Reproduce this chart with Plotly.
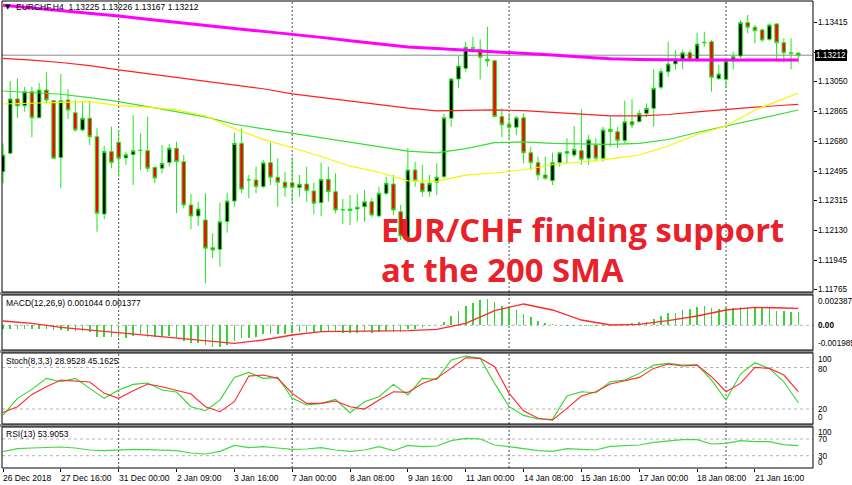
import plotly.graph_objects as go

# ======================= DATA =======================
bars = list(range(111))  # H4 bars, 26 Dec 2018 08:00 ... 22 Jan 2019 16:00

opens = [1.12493, 1.12607, 1.12942, 1.12900, 1.12987, 1.12826, 1.12997, 1.12931, 1.12580, 1.12936,
         1.12857, 1.12751, 1.12823, 1.12709, 1.12232, 1.12617, 1.12675, 1.12578, 1.12598, 1.12623,
         1.12623, 1.12520, 1.12514, 1.12549, 1.12638, 1.12555, 1.12288, 1.12220, 1.12195, 1.12024,
         1.12014, 1.12185, 1.12312, 1.12668, 1.12442, 1.12442, 1.12401, 1.12549, 1.12459, 1.12428,
         1.12425, 1.12395, 1.12417, 1.12374, 1.12302, 1.12446, 1.12370, 1.12257, 1.12253, 1.12263,
         1.12277, 1.12308, 1.12220, 1.12360, 1.12417, 1.12246, 1.12072, 1.12504, 1.12422, 1.12370,
         1.12428, 1.12462, 1.12823, 1.13065, 1.13131, 1.13255, 1.13248, 1.13187, 1.13178, 1.12833,
         1.12786, 1.12767, 1.12826, 1.12610, 1.12549, 1.12473, 1.12438, 1.12549, 1.12607, 1.12596,
         1.12623, 1.12576, 1.12658, 1.12576, 1.12755, 1.12740, 1.12685, 1.12802, 1.12802, 1.12853,
         1.12884, 1.13014, 1.13110, 1.13158, 1.13187, 1.13227, 1.13182, 1.13292, 1.13295, 1.13067,
         1.13063, 1.13176, 1.13207, 1.13413, 1.13384, 1.13368, 1.13310, 1.13405, 1.13289, 1.13227,
         1.13225]
highs = [1.12668, 1.13053, 1.13069, 1.13016, 1.13018, 1.13039, 1.13107, 1.12936, 1.13096, 1.13002,
         1.12936, 1.12925, 1.12925, 1.12761, 1.12652, 1.12771, 1.12751, 1.12617, 1.12843, 1.12730,
         1.12833, 1.12524, 1.12658, 1.12664, 1.12678, 1.12596, 1.12356, 1.12308, 1.12360, 1.12113,
         1.12302, 1.12364, 1.12734, 1.12761, 1.12473, 1.12524, 1.12565, 1.12672, 1.12576, 1.12493,
         1.12582, 1.12473, 1.12524, 1.12425, 1.12549, 1.12524, 1.12483, 1.12325, 1.12349, 1.12356,
         1.12380, 1.12329, 1.12401, 1.12462, 1.12473, 1.12288, 1.12639, 1.12555, 1.12535, 1.12473,
         1.12545, 1.12849, 1.13069, 1.13207, 1.13295, 1.13326, 1.13310, 1.13388, 1.13182, 1.12884,
         1.12853, 1.12837, 1.12853, 1.12647, 1.12586, 1.12586, 1.12610, 1.12617, 1.12699, 1.12775,
         1.12878, 1.12720, 1.12699, 1.12771, 1.12833, 1.12771, 1.12931, 1.12940, 1.12874, 1.12915,
         1.13125, 1.13131, 1.13295, 1.13244, 1.13244, 1.13244, 1.13351, 1.13357, 1.13306, 1.13152,
         1.13182, 1.13234, 1.13429, 1.13460, 1.13398, 1.13378, 1.13409, 1.13409, 1.13316, 1.13316,
         1.13226]
lows = [1.12422, 1.12602, 1.12825, 1.12863, 1.12706, 1.12823, 1.12915, 1.12570, 1.12391, 1.12818,
        1.12740, 1.12740, 1.12658, 1.12123, 1.12200, 1.12514, 1.12462, 1.12535, 1.12411, 1.12504,
        1.12493, 1.12422, 1.12483, 1.12524, 1.12237, 1.12267, 1.12138, 1.12158, 1.11805, 1.11959,
        1.11907, 1.12117, 1.12277, 1.12360, 1.12329, 1.12360, 1.12391, 1.12411, 1.12277, 1.12339,
        1.12308, 1.12339, 1.12308, 1.12230, 1.12220, 1.12308, 1.12237, 1.12171, 1.12164, 1.12185,
        1.12185, 1.12212, 1.12212, 1.12349, 1.12226, 1.12072, 1.12053, 1.12401, 1.12339, 1.12339,
        1.12349, 1.12453, 1.12771, 1.13008, 1.13110, 1.13226, 1.13063, 1.13141, 1.12829, 1.12706,
        1.12699, 1.12720, 1.12545, 1.12504, 1.12442, 1.12442, 1.12411, 1.12524, 1.12545, 1.12582,
        1.12535, 1.12535, 1.12555, 1.12555, 1.12647, 1.12638, 1.12668, 1.12761, 1.12796, 1.12829,
        1.12771, 1.13002, 1.13079, 1.13121, 1.13125, 1.13172, 1.13172, 1.13264, 1.12987, 1.13059,
        1.13008, 1.13125, 1.13193, 1.13347, 1.13285, 1.13295, 1.13301, 1.13172, 1.13166, 1.13125,
        1.13167]
closes = [1.12596, 1.12942, 1.12899, 1.12987, 1.12826, 1.12997, 1.12936, 1.12576, 1.12931, 1.12874,
          1.12751, 1.12823, 1.12709, 1.12237, 1.12617, 1.12549, 1.12576, 1.12598, 1.12623, 1.12625,
          1.12514, 1.12454, 1.12545, 1.12638, 1.12555, 1.12288, 1.12220, 1.12263, 1.12021, 1.12010,
          1.12185, 1.12312, 1.12668, 1.12386, 1.12444, 1.12401, 1.12549, 1.12459, 1.12428, 1.12395,
          1.12397, 1.12416, 1.12376, 1.12298, 1.12446, 1.12370, 1.12257, 1.12259, 1.12263, 1.12274,
          1.12308, 1.12226, 1.12360, 1.12422, 1.12257, 1.12097, 1.12504, 1.12438, 1.12370, 1.12422,
          1.12459, 1.12826, 1.13065, 1.13145, 1.13261, 1.13258, 1.13199, 1.13176, 1.12833, 1.12783,
          1.12767, 1.12826, 1.12610, 1.12549, 1.12473, 1.12453, 1.12549, 1.12610, 1.12617, 1.12631,
          1.12570, 1.12689, 1.12576, 1.12751, 1.12740, 1.12685, 1.12802, 1.12781, 1.12853, 1.12884,
          1.13008, 1.13110, 1.13158, 1.13187, 1.13227, 1.13182, 1.13281, 1.13289, 1.13076, 1.13096,
          1.13176, 1.13203, 1.13413, 1.13384, 1.13363, 1.13306, 1.13398, 1.13289, 1.13227, 1.13224,
          1.13212]

# moving averages, read every 4th bar
ma_index = list(range(0, 109, 4)) + [110]
sma200 = [1.13520, 1.13504, 1.13489, 1.13472, 1.13454, 1.13434, 1.13414, 1.13395, 1.13377, 1.13359,
          1.13342, 1.13322, 1.13301, 1.13281, 1.13263, 1.13253, 1.13244, 1.13235, 1.13224, 1.13213,
          1.13201, 1.13190, 1.13185, 1.13182, 1.13182, 1.13182, 1.13182, 1.13182, 1.13182]
sma_red = [1.13192, 1.13182, 1.13167, 1.13148, 1.13121, 1.13097, 1.13074, 1.13052, 1.13028, 1.13005,
           1.12973, 1.12951, 1.12929, 1.12906, 1.12885, 1.12868, 1.12871, 1.12874, 1.12870, 1.12860,
           1.12846, 1.12837, 1.12837, 1.12846, 1.12862, 1.12878, 1.12891, 1.12903, 1.12909]
sma_green = [1.12991, 1.12981, 1.12971, 1.12950, 1.12925, 1.12895, 1.12863, 1.12831, 1.12786, 1.12758,
             1.12730, 1.12701, 1.12673, 1.12646, 1.12620, 1.12609, 1.12636, 1.12672, 1.12677, 1.12668,
             1.12664, 1.12662, 1.12668, 1.12692, 1.12735, 1.12775, 1.12812, 1.12852, 1.12874]
sma_yellow = [1.12911, 1.12915, 1.12920, 1.12925, 1.12901, 1.12891, 1.12875, 1.12837, 1.12759, 1.12693,
              1.12641, 1.12587, 1.12527, 1.12490, 1.12437, 1.12434, 1.12472, 1.12485, 1.12505, 1.12536,
              1.12553, 1.12572, 1.12596, 1.12652, 1.12723, 1.12775, 1.12874, 1.12945, 1.12977]

# MACD(12,26,9): histogram per bar, signal every 4th bar
macd_hist = [-0.00033, -0.00030, -0.00027, -0.00030, -0.00033, -0.00033, -0.00033, -0.00038, -0.00038, -0.00044,
             -0.00044, -0.00049, -0.00054, -0.00092, -0.00097, -0.00097, -0.00092, -0.00100, -0.00087, -0.00081,
             -0.00092, -0.00092, -0.00092, -0.00087, -0.00105, -0.00124, -0.00140, -0.00146, -0.00159, -0.00178,
             -0.00178, -0.00159, -0.00124, -0.00105, -0.00105, -0.00092, -0.00070, -0.00073, -0.00073, -0.00073,
             -0.00065, -0.00052, -0.00052, -0.00057, -0.00052, -0.00052, -0.00057, -0.00059, -0.00059, -0.00059,
             -0.00057, -0.00059, -0.00054, -0.00046, -0.00052, -0.00057, -0.00033, -0.00030, -0.00017, -0.00003,
             0.00003, 0.00024, 0.00075, 0.00118, 0.00159, 0.00183, 0.00205, 0.00210, 0.00191, 0.00156,
             0.00137, 0.00124, 0.00091, 0.00070, 0.00037, 0.00016, 0.00008, 0.00002, -0.00003, -0.00003,
             -0.00006, -0.00008, -0.00008, -0.00006, -0.00003, 0.00002, 0.00008, 0.00016, 0.00024, 0.00030,
             0.00048, 0.00075, 0.00097, 0.00102, 0.00124, 0.00129, 0.00145, 0.00156, 0.00137, 0.00129,
             0.00137, 0.00137, 0.00151, 0.00151, 0.00145, 0.00145, 0.00137, 0.00118, 0.00118, 0.00110,
             0.001044]
macd_signal = [0.000348, 0.000159, -0.000165, -0.000381, -0.00065, -0.000866, -0.001055, -0.001244, -0.00146,
               -0.00119, -0.000785, -0.000515, -0.000488, -0.000488, -0.000435, -0.000326, 0.000159, 0.001185,
               0.001725, 0.001239, 0.000429, 0.000024, 0.000078, 0.000375, 0.000753, 0.001239, 0.001455,
               0.001401, 0.001377]

# Stochastic(8,3,3) and RSI(13), read every 2nd bar
osc_index = list(range(0, 111, 2))
stoch_main = [11.3, 35.4, 48.4, 64.3, 59.4, 64.3, 49.8, 35.4, 47.4, 55.6, 57.5, 47.4, 44.5, 23.3, 17.5, 32.9,
              65.7, 72.9, 64.3, 65.7, 35.4, 25.7, 28.1, 33.9, 14.6, 30.5, 37.8, 55.6, 40.2, 64.3, 62.8, 90.8,
              96.5, 93.2, 57.0, 23.3, 10.8, 5.5, 5.0, 38.7, 45.0, 43.5, 59.4, 61.8, 71.5, 83.5, 85.9, 83.5,
              84.0, 61.8, 32.9, 70.5, 86.9, 78.7, 59.4, 28.95]
stoch_signal = [15.1, 23.3, 41.1, 52.2, 61.8, 60.4, 59.0, 42.6, 35.4, 46.4, 56.1, 52.2, 46.4, 41.6, 23.3, 16.1,
                30.5, 67.6, 69.1, 64.3, 42.6, 28.1, 28.1, 31.5, 23.3, 19.9, 32.9, 45.0, 44.0, 57.0, 64.3, 78.7,
                94.1, 93.2, 81.1, 42.6, 17.5, 6.5, 4.0, 20.9, 38.7, 45.0, 56.1, 60.9, 65.7, 78.7, 85.0, 82.1,
                83.5, 66.7, 45.0, 57.0, 80.2, 78.7, 69.1, 45.16]
rsi = [39.6, 46.8, 48.4, 50.0, 50.8, 48.4, 43.6, 42.0, 43.6, 45.2, 44.4, 43.6, 42.0, 36.5, 34.1, 40.4,
       54.8, 49.2, 51.6, 48.4, 45.2, 46.0, 49.2, 43.6, 40.4, 43.6, 51.6, 42.0, 54.8, 51.6, 53.2, 66.0,
       71.6, 70.0, 55.6, 51.6, 46.8, 42.0, 40.4, 46.8, 45.2, 43.6, 52.4, 54.8, 55.6, 62.0, 66.0, 68.4,
       68.4, 58.0, 59.6, 66.0, 63.6, 63.6, 56.4, 53.9]

time_label_index = [0, 8, 16, 24, 32, 40, 48, 56, 64, 72, 80, 88, 96, 104]
time_labels = ["26 Dec 2018", "27 Dec 16:00", "31 Dec 00:00", "2 Jan 09:00", "3 Jan 16:00",
               "7 Jan 00:00", "8 Jan 08:00", "9 Jan 16:00", "11 Jan 00:00", "14 Jan 08:00",
               "15 Jan 16:00", "17 Jan 00:00", "18 Jan 08:00", "21 Jan 16:00"]
week_start_index = [16, 40, 70, 100]
price_ticks = [1.13415, 1.13230, 1.13050, 1.12865, 1.12680, 1.12495, 1.12315, 1.12130, 1.11945, 1.11765]
price_tick_text = ["1.13415", "1.13230", "1.13050", "1.12865", "1.12680", "1.12495", "1.12315",
                   "1.12130", "1.11945", "1.11765"]
last_price = 1.13212
header_text = "EURCHF,H4  1.13225 1.13226 1.13167 1.13212"
macd_title = "MACD(12,26,9) 0.001044 0.001377"
stoch_title = "Stoch(8,3,3) 28.9528 45.1625"
rsi_title = "RSI(13) 53.9053"
macd_scale_labels = ["0.002387", "<b>0.00</b>", "-0.001985"]
stoch_scale_labels = ["100", "80", "20", "0"]
rsi_scale_labels = ["100", "70", "30", "0"]
stoch_levels = [80, 20]
rsi_levels = [70, 30]
headline = ["EUR/CHF finding support", "at the 200 SMA"]

# ======================= LAYOUT GEOMETRY =======================
W, H = 852, 485
X_LEFT, X_RIGHT = 2, 813
BAR0_PX, BAR_STEP = 3.0, 7.23
P_MAIN = (1, 292)
P_MACD = (295, 350)
P_STOCH = (353, 424)
P_RSI = (427, 468)
FONT = "Liberation Sans"
SMALL = 8.5
AX = 8.2


def fx(px):
    return px / W


def fy(py):
    return 1 - py / H


def bar_at(px):
    return (px - BAR0_PX) / BAR_STEP


def price_at(py):
    return 1.13415 - (py - 22.3) / 16206.0


def macd_at(py):
    return (325.3 - py) / 12351.0


def stoch_at(py):
    return 80 - (py - 367.5) / 0.6917


def rsi_at(py):
    return 70 - (py - 439.0) / 0.4175


fig = go.Figure()

# moving averages (drawn under candles)
fig.add_trace(go.Scatter(x=ma_index, y=sma_red, mode="lines", line=dict(color="#ff2020", width=1.2),
                         xaxis="x", yaxis="y", hoverinfo="skip"))
fig.add_trace(go.Scatter(x=ma_index, y=sma_green, mode="lines", line=dict(color="#33e033", width=1.2),
                         xaxis="x", yaxis="y", hoverinfo="skip"))
fig.add_trace(go.Scatter(x=ma_index, y=sma_yellow, mode="lines", line=dict(color="#f5f500", width=1.2),
                         xaxis="x", yaxis="y", hoverinfo="skip"))
fig.add_trace(go.Scatter(x=ma_index, y=sma200, mode="lines", line=dict(color="#ff00ff", width=3),
                         xaxis="x", yaxis="y", hoverinfo="skip"))

fig.add_trace(go.Candlestick(
    x=bars, open=opens, high=highs, low=lows, close=closes,
    increasing=dict(line=dict(color="#1ee81e", width=1), fillcolor="#000000"),
    decreasing=dict(line=dict(color="#1ee81e", width=1), fillcolor="#ff0000"),
    whiskerwidth=0, xaxis="x", yaxis="y", hoverinfo="skip"))

# MACD
fig.add_trace(go.Bar(x=bars, y=macd_hist, width=0.22, marker=dict(color="#3ad23a", line=dict(width=0)),
                     xaxis="x", yaxis="y2", hoverinfo="skip"))
fig.add_trace(go.Scatter(x=ma_index, y=macd_signal, mode="lines", line=dict(color="#ff2a2a", width=1.3),
                         xaxis="x", yaxis="y2", hoverinfo="skip"))
# Stochastic
fig.add_trace(go.Scatter(x=osc_index, y=stoch_main, mode="lines", line=dict(color="#2ed82e", width=1.1),
                         xaxis="x", yaxis="y3", hoverinfo="skip"))
fig.add_trace(go.Scatter(x=osc_index, y=stoch_signal, mode="lines", line=dict(color="#ff2a2a", width=1.1),
                         xaxis="x", yaxis="y3", hoverinfo="skip"))
# RSI
fig.add_trace(go.Scatter(x=osc_index, y=rsi, mode="lines", line=dict(color="#45d845", width=1.2),
                         xaxis="x", yaxis="y4", hoverinfo="skip"))

shapes = []
# level lines
shapes.append(dict(type="line", xref="paper", x0=fx(X_LEFT), x1=fx(X_RIGHT), yref="y2", y0=0, y1=0,
                   line=dict(color="#b4b4b4", width=1, dash="3px,3px"), layer="below"))
for lv in stoch_levels:
    shapes.append(dict(type="line", xref="paper", x0=fx(X_LEFT), x1=fx(X_RIGHT), yref="y3", y0=lv, y1=lv,
                       line=dict(color="#b4b4b4", width=1, dash="3px,3px"), layer="below"))
for lv in rsi_levels:
    shapes.append(dict(type="line", xref="paper", x0=fx(X_LEFT), x1=fx(X_RIGHT), yref="y4", y0=lv, y1=lv,
                       line=dict(color="#b4b4b4", width=1, dash="3px,3px"), layer="below"))
# week separators
for wi in week_start_index:
    shapes.append(dict(type="line", xref="x", x0=wi, x1=wi, yref="paper", y0=fy(P_RSI[1]), y1=fy(0),
                       line=dict(color="#505050", width=1, dash="2px,2px"), layer="below"))
# current price line
shapes.append(dict(type="line", xref="paper", x0=fx(X_LEFT), x1=fx(X_RIGHT), yref="y", y0=last_price,
                   y1=last_price, line=dict(color="#8a8a8a", width=1), layer="below"))
# separators between windows
for top, bot in [(P_MAIN[1], P_MACD[0]), (P_MACD[1], P_STOCH[0]), (P_STOCH[1], P_RSI[0])]:
    shapes.append(dict(type="rect", xref="paper", yref="paper", x0=0, x1=fx(X_RIGHT + 0.5),
                       y0=fy(bot), y1=fy(top), fillcolor="#8c8c8c", line=dict(width=0), layer="above"))
# window borders
for top, bot in [P_MAIN, P_MACD, P_STOCH, P_RSI]:
    shapes.append(dict(type="rect", xref="paper", yref="paper", x0=fx(X_LEFT), x1=fx(X_RIGHT),
                       y0=fy(bot), y1=fy(top), line=dict(color="#000000", width=1), layer="above"))

ann = []
ann.append(dict(text="▼", x=fx(3), y=fy(7.5), xref="paper", yref="paper", xanchor="left", yanchor="middle",
                showarrow=False, font=dict(family="DejaVu Sans", size=7, color="#000")))
ann.append(dict(text=header_text, x=fx(14), y=fy(7.5), xref="paper", yref="paper", xanchor="left",
                yanchor="middle", showarrow=False, font=dict(family=FONT, size=SMALL, color="#000")))
# price scale labels
for pv, txt in zip(price_ticks, price_tick_text):
    ann.append(dict(text=txt, x=fx(816), y=pv, xref="paper", yref="y", xanchor="left",
                    yanchor="middle", showarrow=False, font=dict(family=FONT, size=AX, color="#000")))
# current price tag (covers the label under it)
ann.append(dict(text="1.13212", x=fx(814.5), y=last_price, xref="paper", yref="y", xanchor="left",
                yanchor="middle", showarrow=False, bgcolor="#000000", borderpad=1, borderwidth=0,
                font=dict(family=FONT, size=AX, color="#fff")))
for txt, py in [(macd_title, 303), (stoch_title, 361), (rsi_title, 434)]:
    ann.append(dict(text=txt, x=fx(4), y=fy(py), xref="paper", yref="paper", xanchor="left",
                    yanchor="middle", showarrow=False, font=dict(family=FONT, size=SMALL, color="#000")))
for txt, py in zip(macd_scale_labels, [301.7, 325.7, 343.3]):
    ann.append(dict(text=txt, x=fx(816), y=fy(py), xref="paper", yref="paper", xanchor="left",
                    yanchor="middle", showarrow=False, font=dict(family=FONT, size=AX, color="#000")))
for txt, py in zip(stoch_scale_labels, [359, 369, 409.3, 417.7]):
    ann.append(dict(text=txt, x=fx(816), y=fy(py), xref="paper", yref="paper", xanchor="left",
                    yanchor="middle", showarrow=False, font=dict(family=FONT, size=AX, color="#000")))
for txt, py in zip(rsi_scale_labels, [432.3, 439.3, 456, 462.7]):
    ann.append(dict(text=txt, x=fx(816), y=fy(py), xref="paper", yref="paper", xanchor="left",
                    yanchor="middle", showarrow=False, font=dict(family=FONT, size=AX, color="#000")))
for xi, txt in zip(time_label_index, time_labels):
    ann.append(dict(text=txt, x=xi, y=fy(477.5), xref="x", yref="paper", xanchor="left", xshift=-2,
                    yanchor="middle", showarrow=False, font=dict(family=FONT, size=SMALL, color="#000")))
for txt, py in zip(headline, [229, 269]):
    ann.append(dict(text="<b>" + txt + "</b>", x=fx(379), y=fy(py), xref="paper", yref="paper",
                    xanchor="left", yanchor="middle", showarrow=False,
                    font=dict(family="Open Sans", size=32.8, color="#e8212a")))

noax = dict(showgrid=False, zeroline=False, showline=False, showticklabels=False, ticks="", anchor="x",
            fixedrange=True)
fig.update_layout(
    width=W, height=H, margin=dict(l=0, r=0, t=0, b=0), paper_bgcolor="white", plot_bgcolor="white",
    showlegend=False, bargap=0,
    xaxis=dict(domain=[fx(X_LEFT), fx(X_RIGHT)], range=[bar_at(X_LEFT), bar_at(X_RIGHT)], anchor="y4",
               showgrid=False, zeroline=False, showline=False, tickvals=time_label_index,
               ticks="outside", ticklen=3, tickcolor="#000", showticklabels=False,
               rangeslider=dict(visible=False), fixedrange=True),
    yaxis=dict(domain=[fy(P_MAIN[1]), fy(P_MAIN[0])], range=[price_at(P_MAIN[1]), price_at(P_MAIN[0])],
               side="right", anchor="x", tickvals=price_ticks, showticklabels=False,
               ticks="outside", ticklen=3, tickcolor="#000",
               showgrid=False, zeroline=False, showline=False, fixedrange=True),
    yaxis2=dict(domain=[fy(P_MACD[1]), fy(P_MACD[0])], range=[macd_at(P_MACD[1]), macd_at(P_MACD[0])], **noax),
    yaxis3=dict(domain=[fy(P_STOCH[1]), fy(P_STOCH[0])], range=[stoch_at(P_STOCH[1]), stoch_at(P_STOCH[0])], **noax),
    yaxis4=dict(domain=[fy(P_RSI[1]), fy(P_RSI[0])], range=[rsi_at(P_RSI[1]), rsi_at(P_RSI[0])], **noax),
    shapes=shapes, annotations=ann,
)

fig.write_html("out.html", config={"displayModeBar": False, "staticPlot": True},
               post_script="document.body.style.margin='0px';")
